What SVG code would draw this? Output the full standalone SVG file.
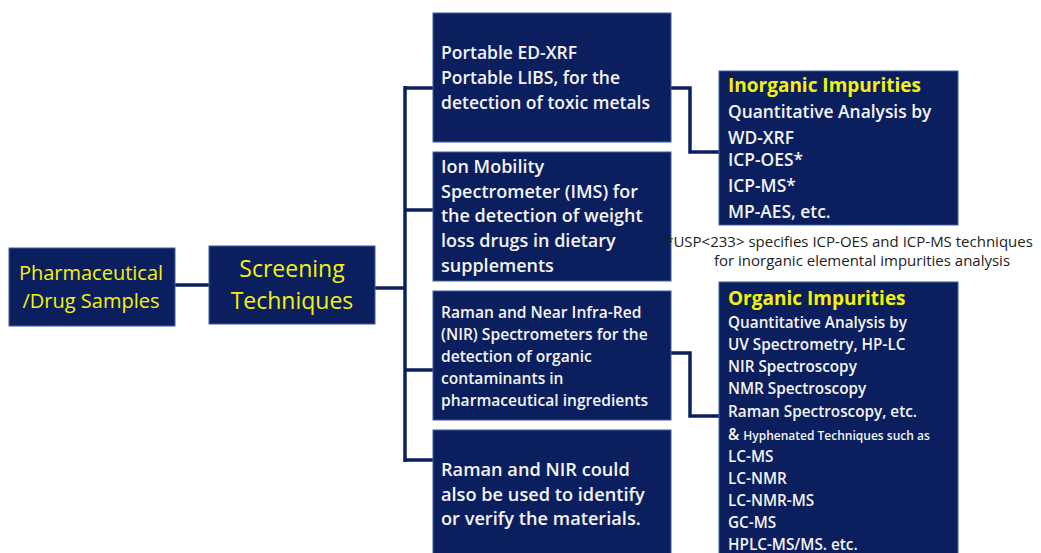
<svg xmlns="http://www.w3.org/2000/svg" width="1041" height="553" viewBox="0 0 1041 553">
  <style>
    .box { fill: #0b1f5e; stroke: #3f5fa8; stroke-width: 1; }
    .wire { fill: none; stroke: #0b1f5e; stroke-width: 3.5; stroke-linejoin: miter; }
    .yel { fill: #f5f20a; font-family: "Open Sans", "Liberation Sans", sans-serif; }
    .w { fill: #f4f4f4; font-family: "Open Sans", "Liberation Sans", sans-serif; font-weight: 600; }
    .note { fill: #222; font-family: "Open Sans", "Liberation Sans", sans-serif; font-size: 15px; }
  </style>
  <rect width="1041" height="553" fill="#ffffff"/>

  <!-- connectors -->
  <g id="connectors">
    <path class="wire" d="M175 285 H209"/>
    <path class="wire" d="M375 288 H405"/>
    <path class="wire" d="M405 86 V462"/>
    <path class="wire" d="M405 88 H433 M405 210 H433 M405 370 H433 M405 460 H433"/>
    <path class="wire" d="M671 88 H690 V152 H719"/>
    <path class="wire" d="M671 353 H690 V416 H719"/>
  </g>

  <g id="samples">
    <rect class="box" x="9" y="248" width="166" height="78"/>
    <text class="yel" font-size="20" text-anchor="middle" x="91" y="280">Pharmaceutical</text>
    <text class="yel" font-size="20" text-anchor="middle" x="91" y="308">/Drug Samples</text>
  </g>

  <g id="screening">
    <rect class="box" x="209" y="246" width="166" height="78"/>
    <text class="yel" font-size="23" text-anchor="middle" x="292" y="277">Screening</text>
    <text class="yel" font-size="23" text-anchor="middle" x="292" y="309">Techniques</text>
  </g>

  <g id="xrf-libs">
    <rect class="box" x="433" y="13" width="238" height="129"/>
    <text class="w" font-size="17.5" x="441">
      <tspan x="441" y="59">Portable ED-XRF</tspan>
      <tspan x="441" y="84">Portable LIBS, for the</tspan>
      <tspan x="441" y="109">detection of toxic metals</tspan>
    </text>
  </g>

  <g id="ims">
    <rect class="box" x="433" y="152" width="238" height="129"/>
    <text class="w" font-size="18" x="441">
      <tspan x="441" y="173">Ion Mobility</tspan>
      <tspan x="441" y="198">Spectrometer (IMS) for</tspan>
      <tspan x="441" y="222">the detection of weight</tspan>
      <tspan x="441" y="247">loss drugs in dietary</tspan>
      <tspan x="441" y="272">supplements</tspan>
    </text>
  </g>

  <g id="raman-nir">
    <rect class="box" x="433" y="291" width="238" height="129"/>
    <text class="w" font-size="15.6" x="441">
      <tspan x="441" y="318">Raman and Near Infra-Red</tspan>
      <tspan x="441" y="340">(NIR) Spectrometers for the</tspan>
      <tspan x="441" y="362">detection of organic</tspan>
      <tspan x="441" y="384">contaminants in</tspan>
      <tspan x="441" y="406">pharmaceutical ingredients</tspan>
    </text>
  </g>

  <g id="identify">
    <rect class="box" x="433" y="430" width="238" height="130"/>
    <text class="w" font-size="18.2" x="441">
      <tspan x="441" y="476">Raman and NIR could</tspan>
      <tspan x="441" y="501">also be used to identify</tspan>
      <tspan x="441" y="525">or verify the materials.</tspan>
    </text>
  </g>

  <g id="inorganic">
    <rect class="box" x="719" y="71" width="239" height="154"/>
    <text class="yel" font-size="19" font-weight="bold" x="728" y="92">Inorganic Impurities</text>
    <text class="w" font-size="17.4" x="728">
      <tspan x="728" y="118">Quantitative Analysis by</tspan>
      <tspan x="728" y="144">WD-XRF</tspan>
      <tspan x="728" y="166">ICP-OES*</tspan>
      <tspan x="728" y="192">ICP-MS*</tspan>
      <tspan x="728" y="218">MP-AES, etc.</tspan>
    </text>
  </g>

  <g id="usp-note">
    <text class="note" text-anchor="middle" x="849" y="247">*USP&lt;233&gt; specifies ICP-OES and ICP-MS techniques</text>
    <text class="note" text-anchor="middle" x="862" y="266">for inorganic elemental impurities analysis</text>
  </g>

  <g id="organic">
    <rect class="box" x="719" y="282" width="239" height="280"/>
    <text class="yel" font-size="19" font-weight="bold" x="728" y="305">Organic Impurities</text>
    <text class="w" font-size="15.3" x="728">
      <tspan x="728" y="328">Quantitative Analysis by</tspan>
      <tspan x="728" y="350">UV Spectrometry, HP-LC</tspan>
      <tspan x="728" y="372">NIR Spectroscopy</tspan>
      <tspan x="728" y="394">NMR Spectroscopy</tspan>
      <tspan x="728" y="417">Raman Spectroscopy, etc.</tspan>
      <tspan x="728" y="440">&amp; <tspan font-size="12">Hyphenated Techniques such as</tspan></tspan>
      <tspan x="728" y="462">LC-MS</tspan>
      <tspan x="728" y="484">LC-NMR</tspan>
      <tspan x="728" y="506">LC-NMR-MS</tspan>
      <tspan x="728" y="528">GC-MS</tspan>
      <tspan x="728" y="550">HPLC-MS/MS. etc.</tspan>
    </text>
  </g>
</svg>
